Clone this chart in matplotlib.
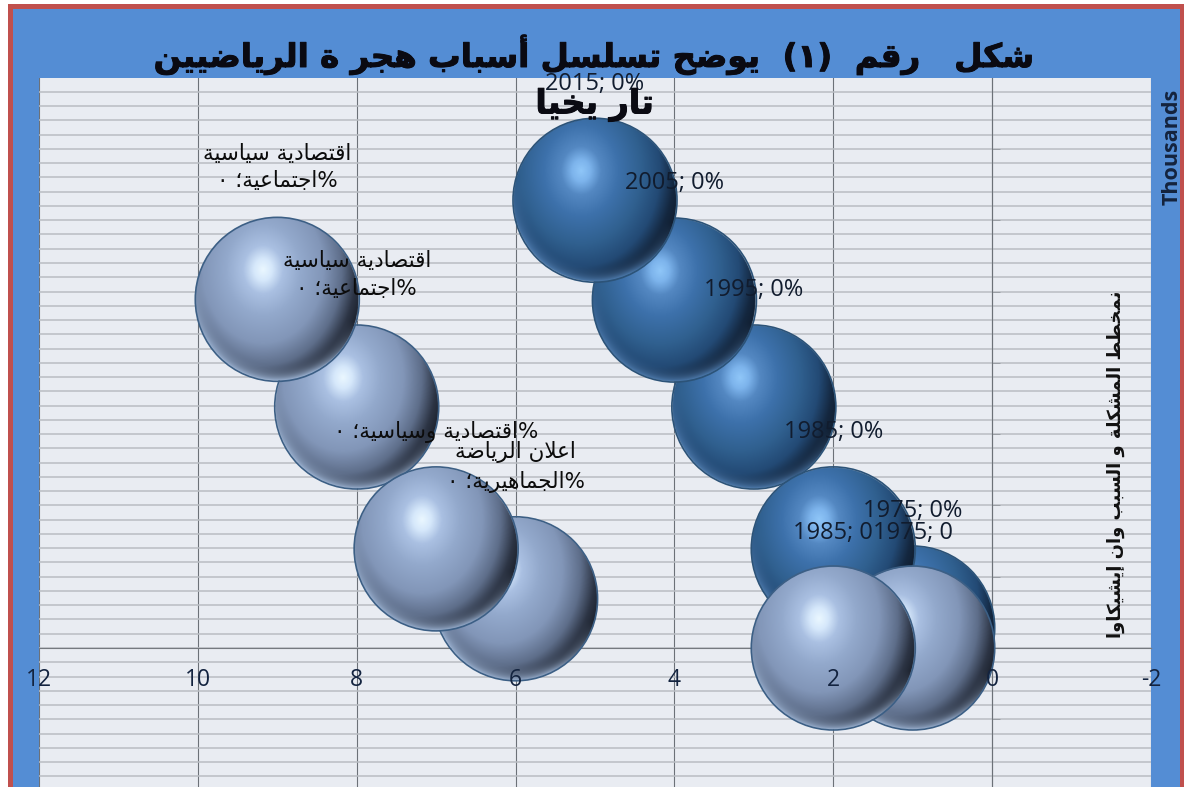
import numpy as np
import matplotlib
matplotlib.use('Agg')
import matplotlib.pyplot as plt
import matplotlib.patheffects as pe
from matplotlib.colors import LinearSegmentedColormap, to_rgb
from matplotlib.patches import Rectangle
from matplotlib.ticker import MultipleLocator

# ---- data ----
dark_x = [5, 4, 3, 2, 1]
dark_y = [6.28, 4.88, 3.38, 1.39, 0.28]
dark_labels = ['2015; 0%', '2005; 0%', '1995; 0%', '1985; 0%', '1975; 0%']
light_x = [9, 8, 7, 6, 2, 1]
light_y = [4.89, 3.38, 1.39, 0.69, 0.0, 0.0]
light_labels = ['اقتصادية سياسية\n%اجتماعية؛ ٠', 'اقتصادية سياسية\n%اجتماعية؛ ٠',
                '%اقتصادية وسياسية؛ ٠', 'اعلان الرياضة\n%الجماهيرية؛ ٠',
                '1985; 0', '1975; 0']
dark_order = [4, 2, 1, 0, 3]
light_order = [5, 4, 3, 1, 2, 0]
title_lines = ['شكل   رقم  (١)  يوضح تسلسل أسباب هجر ة الرياضيين', 'تار يخيا']
y_title = 'نمخطط المشكلة و السبب وان إيشيكاوا'
y_unit = 'Thousands'
x_ticks = [12, 10, 8, 6, 4, 2, 0, -2]

# Arabic: matplotlib has no shaping, so map to presentation forms in display order
FORMS = {
 'ء':(0xFE80,0xFE80),'آ':(0xFE81,0xFE82),'أ':(0xFE83,0xFE84),'ؤ':(0xFE85,0xFE86),'إ':(0xFE87,0xFE88),
 'ا':(0xFE8D,0xFE8E),'ة':(0xFE93,0xFE94),'د':(0xFEA9,0xFEAA),'ذ':(0xFEAB,0xFEAC),'ر':(0xFEAD,0xFEAE),
 'ز':(0xFEAF,0xFEB0),'و':(0xFEED,0xFEEE),'ى':(0xFEEF,0xFEF0),
}
DUAL = {'ب':0xFE8F,'ت':0xFE95,'ث':0xFE99,'ج':0xFE9D,'ح':0xFEA1,'خ':0xFEA5,'س':0xFEB1,'ش':0xFEB5,
        'ص':0xFEB9,'ض':0xFEBD,'ط':0xFEC1,'ظ':0xFEC5,'ع':0xFEC9,'غ':0xFECD,'ف':0xFED1,'ق':0xFED5,
        'ك':0xFED9,'ل':0xFEDD,'م':0xFEE1,'ن':0xFEE5,'ه':0xFEE9,'ي':0xFEF1}
LAM_ALEF = {'ا':(0xFEFB,0xFEFC),'أ':(0xFEF7,0xFEF8),'إ':(0xFEF9,0xFEFA),'آ':(0xFEF5,0xFEF6)}
MIRROR = {'(':')',')':'('}

def shape(text):
    out = []
    i = 0
    n = len(text)
    while i < n:
        c = text[i]
        prev = text[i-1] if i else ''
        nxt = text[i+1] if i + 1 < n else ''
        joins_prev = prev in DUAL
        if c == 'ل' and nxt in LAM_ALEF:
            out.append(chr(LAM_ALEF[nxt][1 if joins_prev else 0]))
            i += 2
            continue
        if c in DUAL:
            base = DUAL[c]
            joins_next = nxt in DUAL or (nxt in FORMS and nxt != 'ء')
            off = (3 if joins_next else 1) if joins_prev else (2 if joins_next else 0)
            out.append(chr(base + off))
        elif c in FORMS:
            out.append(chr(FORMS[c][1 if joins_prev else 0]))
        else:
            out.append(MIRROR.get(c, c))
        i += 1
    return ''.join(reversed(out))

def rtl(text):
    return '\n'.join(shape(t) for t in text.split('\n'))

W, H = 1184, 787
fig = plt.figure(figsize=(W/100, H/100), dpi=100, facecolor='white')
fig.add_artist(Rectangle((9.5/W, -0.02), (1181.5-9.5)/W, 1.02-5.5/H, transform=fig.transFigure,
                         facecolor='#548DD4', edgecolor='#C0504D', linewidth=3.6, zorder=-5))

ax = fig.add_axes([39/W, 0, (1151-39)/W, (787-78)/H])
ax.set_facecolor('#E9ECF2')
ax.set_xlim(12, -2)
y0 = 648
ypx = 71.3
ylim = (-(787-y0)/ypx, (y0-78)/ypx)
ax.set_ylim(*ylim)

ax.xaxis.set_major_locator(MultipleLocator(2))
ax.yaxis.set_major_locator(MultipleLocator(1))
ax.yaxis.set_minor_locator(MultipleLocator(0.2))
ax.grid(which='major', axis='x', color='#6c7178', lw=0.8)
ax.grid(which='minor', axis='y', color='#b9bdc3', lw=1.1)
ax.grid(which='major', axis='y', color='#b9bdc3', lw=1.1)
ax.set_axisbelow(True)
for s in ['top', 'left']:
    ax.spines[s].set_visible(False)
ax.spines['bottom'].set_position(('data', 0))
ax.spines['bottom'].set_color('#75797f')
ax.spines['right'].set_position(('data', 0))
ax.spines['right'].set_color('#6c7178')
ax.spines['right'].set_linewidth(0.8)
ax.yaxis.tick_right()
ax.tick_params(axis='y', which='major', length=6, width=0.7, color='#9a9ea4', labelright=False)
ax.tick_params(axis='y', which='minor', length=0)
ax.tick_params(axis='x', length=0, pad=0)
ax.set_xticks(x_ticks)
ax.set_xticklabels([])
for t in x_ticks:
    ax.annotate(str(t), (t, 0), xytext=(0, -23), textcoords='offset points', ha='center', va='center',
                fontsize=16.5, family='Open Sans', color='#13233f', annotation_clip=False, zorder=9)

R_PX = 82
Rx, Ry = R_PX/79.43, R_PX/ypx

def sphere(stops, rim, n=360):
    yy, xx = np.mgrid[1:-1:n*1j, -1:1:n*1j]   # image row 0 = top of bubble
    r = np.hypot(xx, yy)
    cmap = LinearSegmentedColormap.from_list('s', stops)
    # horizontal distance counts for more, so the right side falls off fastest
    d = np.hypot((xx + 0.17)*1.12, (yy - 0.36)*0.92) / 1.5
    rgb = cmap(np.clip(d, 0, 1))[..., :3]
    # lighter rim along the lower edge, fading out towards the right side
    rim_amt = np.clip((r - 0.80) / 0.2, 0, 1)**2 * np.clip((-yy - 0.3*xx)*1.3, 0, 1)
    rgb = rgb*(1 - rim_amt[..., None]) + np.array(to_rgb(rim))*rim_amt[..., None]
    a = np.clip((1 - r) * n/2, 0, 1)
    return np.dstack([rgb, a])

dark_img = sphere([(0, '#8FC6F8'), (0.08, '#7DB4EC'), (0.18, '#5488C2'), (0.34, '#3D71AB'), (0.55, '#30608F'),
                   (0.72, '#234A75'), (0.85, '#14273F'), (1, '#0E1724')], '#4F7DB0')
light_img = sphere([(0, '#EAF7FF'), (0.08, '#D6E8FB'), (0.18, '#AAC0E2'), (0.34, '#93A9CC'), (0.55, '#8296B8'),
                    (0.72, '#5E6E8A'), (0.85, '#2C3444'), (1, '#10141C')], '#9DB4D4')

z = 3.0
def bubble(x, y, img, edge):
    global z
    # the x axis runs right to left: give the extent in screen order so the highlight stays upper left
    ax.imshow(img, extent=(x+Rx, x-Rx, y-Ry, y+Ry), origin='upper', aspect='auto', zorder=z, interpolation='bilinear')
    z += 0.01
    ax.scatter([x], [y], s=((2*R_PX)*0.72)**2, facecolor='none', edgecolor=edge, linewidth=1.2, zorder=z)
    z += 0.01

for i in dark_order:
    bubble(dark_x[i], dark_y[i], dark_img, '#2C5378')
for i in light_order:
    bubble(light_x[i], light_y[i], light_img, '#3C5F85')
ax.set_xlim(12, -2)
ax.set_ylim(*ylim)

fam = ['DejaVu Sans']
for x, y, s in zip(dark_x, dark_y, dark_labels):
    ax.annotate(s, (x, y), xytext=(0, 84), textcoords='offset points', ha='center', va='center',
                fontsize=17, family='Open Sans', color='#111c2e', zorder=10, annotation_clip=False)
for x, y, s in zip(light_x, light_y, light_labels):
    if s[0].isdigit():
        ax.annotate(s, (x, y), xytext=(0, 83), textcoords='offset points', ha='center', va='center',
                    fontsize=17, family='Open Sans', color='#111c2e', zorder=10)
    else:
        off = 95 if '\n' in s else 84
        ax.annotate(rtl(s), (x, y), xytext=(0, off), textcoords='offset points', ha='center', va='center',
                    fontsize=15.5, family=fam, color='#0c0c0c', linespacing=1.45, zorder=10)

thick = [pe.withStroke(linewidth=0.7, foreground='#0a0a12')]
fig.text(595/W, 1-55/H, rtl(title_lines[0]), ha='center', va='center', fontsize=23.4, family=fam,
         fontweight='bold', color='#0a0a12', zorder=20, path_effects=thick)
fig.text(595/W, 1-105/H, rtl(title_lines[1]), ha='center', va='center', fontsize=24, family=fam,
         fontweight='bold', color='#0a0a12', zorder=20, path_effects=thick)
fig.text(1116/W, 1-464/H, rtl(y_title), rotation=90, ha='center', va='center', fontsize=13,
         family=fam, fontweight='bold', color='#111', zorder=20)
fig.text(1172/W, 1-147/H, y_unit, rotation=90, ha='center', va='center', fontsize=15.5,
         family='Open Sans', fontweight='bold', color='#14233d', zorder=20)

fig.savefig('out.png', dpi=100, facecolor='white')
